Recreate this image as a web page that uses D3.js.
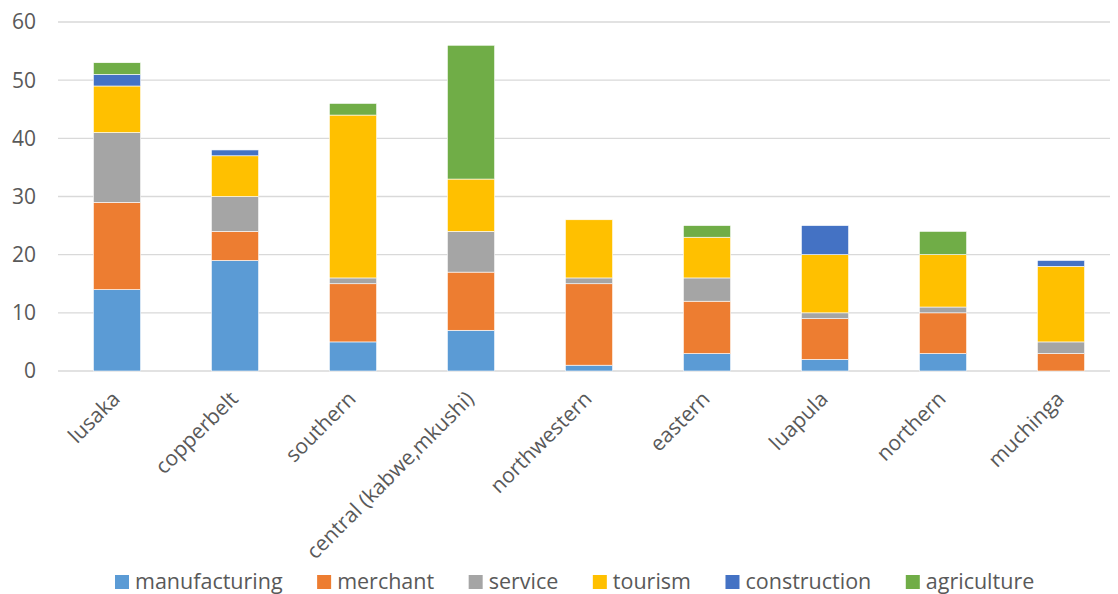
<!DOCTYPE html>
<html>
<head>
<meta charset="utf-8">
<script src="https://cdn.jsdelivr.net/npm/d3@7"></script>
<style>
  body { margin: 0; background: #fff; }
  text { font-family: "Open Sans", sans-serif; fill: #595959; }
</style>
</head>
<body>
<script>
// regions and sector counts
var regions = ["lusaka", "copperbelt", "southern", "central (kabwe,mkushi)", "northwestern",
               "eastern", "luapula", "northern", "muchinga"];
var sectors = ["manufacturing", "merchant", "service", "tourism", "construction", "agriculture"];
var colors = ["#5b9bd5", "#ed7d31", "#a5a5a5", "#ffc000", "#4472c4", "#70ad47"];

var manufacturing = [14, 19, 5, 7, 1, 3, 2, 3, 0];
var merchant      = [15, 5, 10, 10, 14, 9, 7, 7, 3];
var service       = [12, 6, 1, 7, 1, 4, 1, 1, 2];
var tourism       = [8, 7, 28, 9, 10, 7, 10, 9, 13];
var construction  = [2, 1, 0, 0, 0, 0, 5, 0, 1];
var agriculture   = [2, 0, 2, 23, 0, 2, 0, 4, 0];
var yTicks = [0, 10, 20, 30, 40, 50, 60];

var series = [manufacturing, merchant, service, tourism, construction, agriculture];
var table = regions.map(function(r, i) {
  var row = {region: r};
  sectors.forEach(function(s, j) { row[s] = series[j][i]; });
  return row;
});

var width = 1118, height = 594;
var svg = d3.select("body").append("svg")
    .attr("width", width)
    .attr("height", height);

var x = d3.scaleBand().domain(regions).range([58, 1120]).paddingInner(0.6).paddingOuter(0.3);
var y = d3.scaleLinear().domain([0, 60]).range([371, 22]);

// gridlines
svg.append("g").selectAll("line")
  .data(yTicks)
  .enter().append("line")
    .attr("x1", 58).attr("x2", 1110)
    .attr("y1", function(d) { return y(d); })
    .attr("y2", function(d) { return y(d); })
    .attr("stroke", "#d9d9d9")
    .attr("stroke-width", 1.3);

// y labels
svg.append("g").selectAll("text")
  .data(yTicks)
  .enter().append("text")
    .attr("x", 36)
    .attr("y", function(d) { return y(d); })
    .attr("dy", "0.35em")
    .attr("text-anchor", "end")
    .style("font-size", "21px")
    .text(function(d) { return d; });

var stacked = d3.stack().keys(sectors)(table);

svg.append("g").selectAll("g")
  .data(stacked)
  .enter().append("g")
    .attr("fill", function(d, i) { return colors[i]; })
  .selectAll("rect")
  .data(function(d) { return d; })
  .enter().append("rect")
    .attr("x", function(d) { return x(d.data.region); })
    .attr("width", x.bandwidth())
    .attr("y", function(d) { return y(d[1]); })
    .attr("height", function(d) { return y(d[0]) - y(d[1]); })
    .attr("stroke", "#fff")
    .attr("stroke-width", function(d) { return d[1] > d[0] ? 0.6 : 0; });

// x labels, rotated
svg.append("g").selectAll("text")
  .data(regions)
  .enter().append("text")
    .attr("transform", function(d) {
      return "translate(" + (x(d) + x.bandwidth() / 2 - 1) + ",395) rotate(-45)";
    })
    .attr("text-anchor", "end")
    .attr("dy", "0.35em")
    .style("font-size", "21px")
    .text(function(d) { return d; });

// legend
var legend = svg.append("g");
var lx = 115;
sectors.forEach(function(s, i) {
  legend.append("rect")
    .attr("x", lx).attr("y", 575)
    .attr("width", 14).attr("height", 14)
    .attr("fill", colors[i]);
  var t = legend.append("text")
    .attr("x", lx + 20).attr("y", 589)
    .style("font-size", "21.5px")
    .text(s);
  lx += 20 + t.node().getComputedTextLength() + 34.5;
});
</script>
</body>
</html>
